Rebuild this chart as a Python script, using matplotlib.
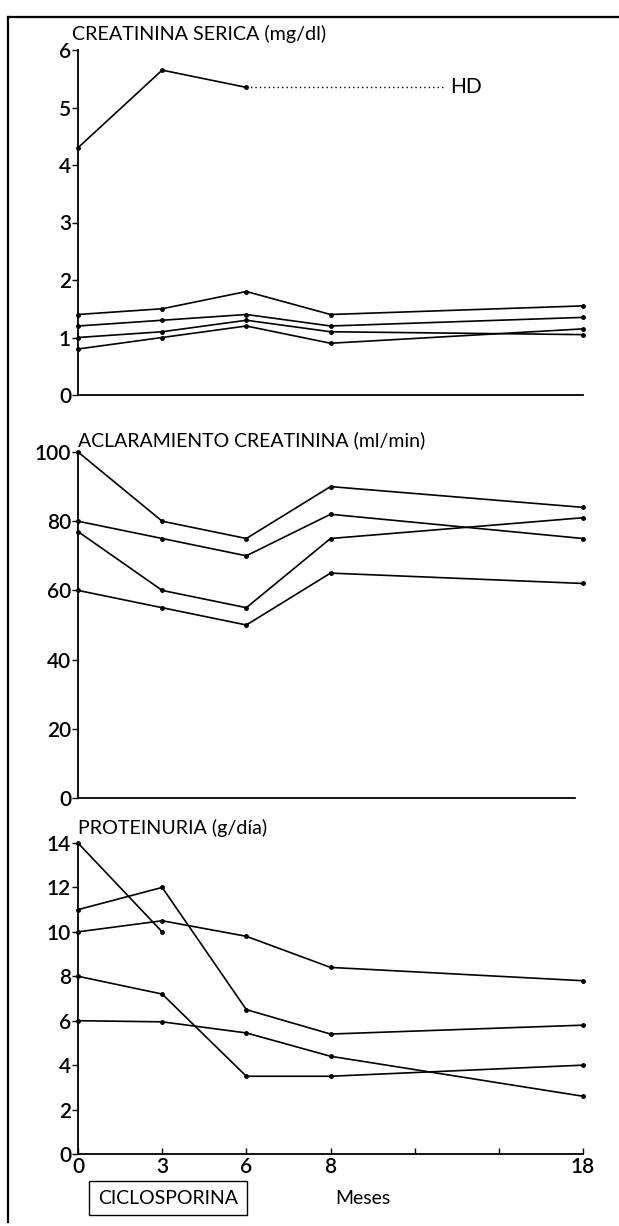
import matplotlib.pyplot as plt
from matplotlib.lines import Line2D

plt.rcParams['font.family'] = ['Lato', 'DejaVu Sans']

# meses en la escala del dibujo (0, 3, 6, 8 ... 18), posiciones equiespaciadas
meses = ["0", "3", "6", "8", "", "", "18"]
pos = [0, 1, 2, 3, 6]

# creatinina serica (mg/dl)
cr_hd = [4.3, 5.65, 5.35]
cr_a = [1.4, 1.5, 1.8, 1.4, 1.55]
cr_b = [1.2, 1.3, 1.4, 1.2, 1.35]
cr_c = [1.0, 1.1, 1.3, 1.1, 1.05]
cr_d = [0.8, 1.0, 1.2, 0.9, 1.15]
hd_fin = 4.35

# aclaramiento creatinina (ml/min)
cl_a = [100, 80, 75, 90, 84]
cl_b = [80, 75, 70, 82, 75]
cl_c = [77, 60, 55, 75, 81]
cl_d = [60, 55, 50, 65, 62]

# proteinuria (g/dia)
pr_a = [14, 10]
pr_b = [11, 12, 6.5, 5.4, 5.8]
pr_c = [10, 10.5, 9.8, 8.4, 7.8]
pr_d = [8, 7.2, 3.5, 3.5, 4.0]
pr_e = [6, 5.95, 5.45, 4.4, 2.6]

W, H = 619, 1226


def fx(px):
    return px / W


def fy(py):
    return 1 - py / H


fig = plt.figure(figsize=(W / 100, H / 100), dpi=100)

ax1 = fig.add_axes([fx(78), fy(395), 505 / W, 345 / H])
ax2 = fig.add_axes([fx(78), fy(798), 505 / W, 346 / H])
ax3 = fig.add_axes([fx(78), fy(1154), 505 / W, 311 / H])

sty = dict(color='black', lw=1.2, marker='o', ms=2.5, clip_on=False)

ax1.plot(pos[:3], cr_hd, **sty)
ax1.plot([pos[2], hd_fin], [cr_hd[2], cr_hd[2]], color='black', lw=1, ls=(0, (1, 2.2)))
ax1.text(hd_fin + 0.07, cr_hd[2], "HD", fontsize=15, va='center', ha='left')
for s in [cr_a, cr_b, cr_c, cr_d]:
    ax1.plot(pos, s, **sty)
ax1.set_ylim(0, 6)
ax1.set_yticks([0, 1, 2, 3, 4, 5, 6])

for s in [cl_a, cl_b, cl_c, cl_d]:
    ax2.plot(pos, s, **sty)
ax2.set_ylim(0, 100)
ax2.set_yticks([0, 20, 40, 60, 80, 100])
ax2.spines['bottom'].set_bounds(0, 5.9)

ax3.plot(pos[:2], pr_a, **sty)
for s in [pr_b, pr_c, pr_d, pr_e]:
    ax3.plot(pos, s, **sty)
ax3.set_ylim(0, 14)
ax3.set_yticks([0, 2, 4, 6, 8, 10, 12, 14])

for ax in [ax1, ax2, ax3]:
    ax.set_xlim(0, 6)
    for sp in ['top', 'right']:
        ax.spines[sp].set_visible(False)
    for sp in ['left', 'bottom']:
        ax.spines[sp].set_linewidth(1.3)
    ax.tick_params(axis='y', direction='out', length=4, width=1, labelsize=15, pad=1)
    ax.set_facecolor('none')
    for t in ax.get_yticklabels():
        t.set_fontweight('semibold')

for ax in [ax1, ax2]:
    ax.set_xticks([])

ax3.set_xticks(range(7))
ax3.set_xticklabels(meses)
ax3.tick_params(axis='x', direction='in', length=4, width=1, labelsize=15, pad=2)
for t in ax3.get_xticklabels():
    t.set_fontweight('semibold')

fig.text(fx(72), fy(40), "CREATININA SERICA (mg/dl)", fontsize=14.2, va='baseline')
fig.text(fx(78), fy(446), "ACLARAMIENTO CREATININA (ml/min)", fontsize=14, va='baseline')
fig.text(fx(78), fy(834), "PROTEINURIA (g/día)", fontsize=14.2, va='baseline')

fig.text(fx(168), fy(1198), "CICLOSPORINA", fontsize=14, ha='center', va='center',
         bbox=dict(boxstyle='square,pad=0.45', fc='white', ec='black', lw=1))
fig.text(fx(363), fy(1198), "Meses", fontsize=14, ha='center', va='center')

fig.add_artist(Line2D([fx(8), 1], [fy(17), fy(17)], color='black', lw=1.6))
fig.add_artist(Line2D([fx(8), fx(8)], [fy(17), fy(1222)], color='black', lw=1.6))

fig.savefig('out.png', dpi=100, facecolor='white')
